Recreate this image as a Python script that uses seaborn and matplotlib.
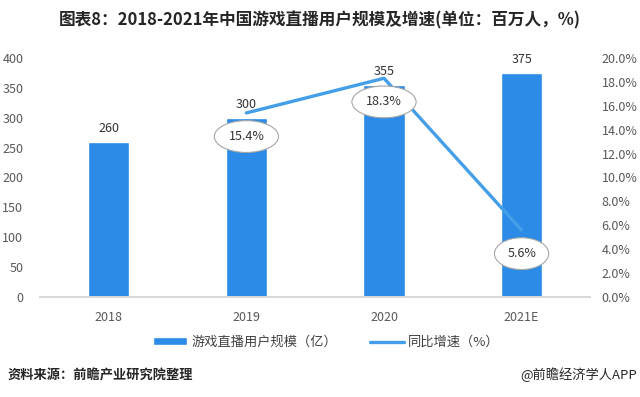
import matplotlib
matplotlib.use('Agg')
import matplotlib.pyplot as plt
import seaborn as sns
import pandas as pd
from matplotlib.ticker import FuncFormatter

# data
years = ['2018', '2019', '2020', '2021E']
users = [260, 300, 355, 375]
growth_years = ['2019', '2020', '2021E']
growth = [15.4, 18.3, 5.6]

title = '图表8：2018-2021年中国游戏直播用户规模及增速(单位：百万人，%)'
bar_label = '游戏直播用户规模（亿）'
line_label = '同比增速（%）'
source = '资料来源：前瞻产业研究院整理'
brand = '@前瞻经济学人APP'

sns.set_theme(style='white')
plt.rcParams['font.family'] = ['Noto Sans CJK SC', 'DejaVu Sans']

bar_color = '#2b8be6'
line_color = '#449fe8'
tick_color = '#595959'

df = pd.DataFrame({'year': years, 'users': users})
gdf = pd.DataFrame({'year': growth_years, 'growth': growth})
gdf['pos'] = [years.index(y) for y in growth_years]

fig = plt.figure(figsize=(6.4, 3.97), dpi=100)
ax = fig.add_axes([0.0625, 0.252, 0.86, 0.602])

sns.barplot(data=df, x='year', y='users', color=bar_color, width=0.3,
            saturation=1, ax=ax, label=bar_label)
ax.set_ylim(0, 400)
ax.set_xlim(-0.5, 3.5)
ax.set_yticks(range(0, 401, 50))
ax.set_xlabel('')
ax.set_ylabel('')

for i, v in enumerate(users):
    ax.annotate(str(v), (i, v), xytext=(0, 5), textcoords='offset points',
                ha='center', va='bottom', fontsize=9, color='#333333')

ax2 = ax.twinx()
sns.lineplot(data=gdf, x='pos', y='growth', color=line_color, linewidth=2.4,
             ax=ax2, label=line_label, legend=False)
ax2.set_ylim(0, 20)
ax2.set_yticks(range(0, 21, 2))
ax2.yaxis.set_major_formatter(FuncFormatter(lambda v, p: f'{v:.1f}%'))
ax2.set_ylabel('')
ax2.set_xlabel('')
ax2.set_xlim(-0.5, 3.5)

for x, v in zip(gdf['pos'], growth):
    ax2.annotate(f'{v}%', (x, v), xytext=(0, -17), textcoords='offset points',
                 ha='center', va='center', fontsize=9, color='#333333',
                 bbox=dict(boxstyle='ellipse,pad=0.38', fc='white',
                           ec='#a6a6a6', lw=0.8))

for a in (ax, ax2):
    for s in ['top', 'left', 'right']:
        a.spines[s].set_visible(False)
    a.spines['bottom'].set_color('#d9d9d9')
    a.tick_params(axis='both', length=0, labelsize=9, colors=tick_color)
ax.tick_params(axis='x', pad=10)
ax.tick_params(axis='y', pad=12)
ax2.tick_params(axis='y', pad=8)

h1, l1 = ax.get_legend_handles_labels()
h2, l2 = ax2.get_legend_handles_labels()
if ax.get_legend():
    ax.get_legend().remove()
fig.legend(h1 + h2, l1 + l2, loc='center', bbox_to_anchor=(0.51, 0.137),
           ncol=2, frameon=False, fontsize=9.5, handlelength=2.6,
           handleheight=0.55, handletextpad=0.3, columnspacing=2.5,
           labelcolor='#404040')

fig.text(0.5, 0.948, title, ha='center', va='center', fontsize=12,
         fontweight='bold', color='#262626')
fig.text(0.012, 0.055, source, ha='left', va='center', fontsize=9.5,
         fontweight='bold', color='#262626')
fig.text(0.995, 0.055, brand, ha='right', va='center', fontsize=9.5,
         color='#262626')

fig.savefig('out.png', dpi=100)
